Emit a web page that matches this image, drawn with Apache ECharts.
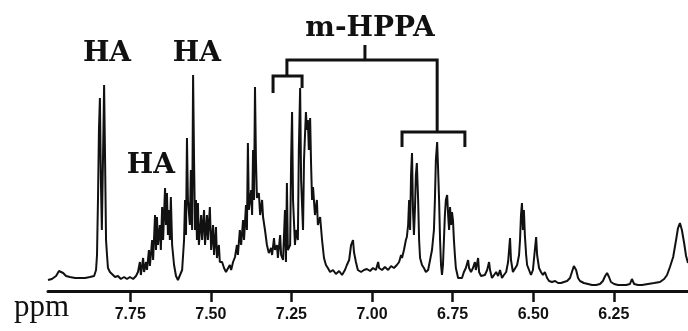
<!DOCTYPE html>
<html>
<head>
<meta charset="utf-8">
<script src="https://cdn.jsdelivr.net/npm/echarts@6/dist/echarts.min.js"></script>
<style>
  html, body { margin: 0; background: #fff; }
  #chart { width: 688px; height: 331px; }
</style>
</head>
<body>
<div id="chart"></div>
<script>
// chemical shift (ppm) left to right
const shift = [
  8.005, 7.993, 7.980, 7.971, 7.965, 7.958, 7.949, 7.937, 7.921, 7.906, 7.890, 7.875, 7.862,
  7.856, 7.853, 7.850, 7.847, 7.844, 7.841, 7.838, 7.834, 7.831, 7.828, 7.825, 7.822, 7.819,
  7.813, 7.807, 7.797, 7.788, 7.779, 7.769, 7.760, 7.751, 7.741, 7.732, 7.726, 7.720, 7.717,
  7.710, 7.707, 7.701, 7.698, 7.692, 7.689, 7.682, 7.679, 7.673, 7.670, 7.667, 7.664, 7.658,
  7.655, 7.651, 7.648, 7.642, 7.639, 7.636, 7.633, 7.630, 7.627, 7.624, 7.620, 7.614, 7.608,
  7.602, 7.596, 7.589, 7.583, 7.580, 7.577, 7.574, 7.571, 7.565, 7.562, 7.558, 7.555, 7.552,
  7.549, 7.546, 7.543, 7.540, 7.537, 7.530, 7.527, 7.521, 7.518, 7.512, 7.509, 7.503, 7.499,
  7.493, 7.490, 7.484, 7.481, 7.475, 7.472, 7.465, 7.459, 7.453, 7.447, 7.441, 7.437, 7.431,
  7.425, 7.419, 7.416, 7.410, 7.406, 7.400, 7.397, 7.391, 7.388, 7.385, 7.382, 7.375, 7.372,
  7.369, 7.366, 7.363, 7.360, 7.357, 7.351, 7.347, 7.341, 7.338, 7.332, 7.326, 7.320, 7.313,
  7.310, 7.304, 7.301, 7.295, 7.292, 7.285, 7.282, 7.276, 7.270, 7.267, 7.264, 7.261, 7.254,
  7.251, 7.248, 7.245, 7.239, 7.236, 7.230, 7.227, 7.223, 7.220, 7.214, 7.211, 7.205, 7.202,
  7.199, 7.196, 7.192, 7.189, 7.186, 7.183, 7.177, 7.171, 7.168, 7.161, 7.155, 7.149, 7.143,
  7.137, 7.130, 7.121, 7.112, 7.102, 7.093, 7.084, 7.078, 7.071, 7.065, 7.059, 7.056, 7.050,
  7.044, 7.034, 7.025, 7.016, 7.006, 6.997, 6.988, 6.981, 6.978, 6.969, 6.960, 6.950, 6.941,
  6.932, 6.923, 6.916, 6.910, 6.907, 6.901, 6.895, 6.892, 6.888, 6.885, 6.882, 6.879, 6.876,
  6.873, 6.870, 6.867, 6.864, 6.861, 6.857, 6.854, 6.851, 6.845, 6.839, 6.833, 6.826, 6.820,
  6.814, 6.808, 6.805, 6.802, 6.798, 6.795, 6.792, 6.789, 6.786, 6.783, 6.780, 6.777, 6.774,
  6.771, 6.767, 6.764, 6.761, 6.758, 6.755, 6.752, 6.749, 6.746, 6.743, 6.740, 6.733, 6.727,
  6.721, 6.715, 6.709, 6.702, 6.699, 6.693, 6.687, 6.681, 6.678, 6.671, 6.668, 6.662, 6.656,
  6.650, 6.643, 6.637, 6.634, 6.628, 6.622, 6.615, 6.609, 6.603, 6.597, 6.591, 6.584, 6.578,
  6.575, 6.572, 6.569, 6.563, 6.557, 6.550, 6.544, 6.541, 6.538, 6.535, 6.532, 6.529, 6.526,
  6.522, 6.519, 6.513, 6.507, 6.501, 6.495, 6.491, 6.488, 6.482, 6.476, 6.470, 6.464, 6.457,
  6.451, 6.442, 6.432, 6.423, 6.414, 6.405, 6.395, 6.386, 6.380, 6.374, 6.370, 6.367, 6.361,
  6.355, 6.343, 6.330, 6.318, 6.305, 6.293, 6.284, 6.277, 6.271, 6.265, 6.259, 6.249, 6.237,
  6.225, 6.212, 6.200, 6.194, 6.187, 6.175, 6.163, 6.144, 6.125, 6.107, 6.094, 6.085, 6.076,
  6.066, 6.057, 6.051, 6.045, 6.039, 6.032, 6.026, 6.020
];
// signal height (arbitrary units), same order as shift
const intensity = [
  11, 12, 15, 20, 21, 18, 15, 14, 13, 13, 13, 14, 15,
  21, 36, 91, 161, 193, 111, 61, 141, 206, 131, 51, 36, 23,
  19, 17, 14, 15, 12, 14, 12, 14, 12, 15, 19, 29, 16,
  33, 19, 29, 21, 41, 25, 51, 31, 76, 41, 74, 46, 66,
  41, 84, 51, 103, 66, 98, 56, 81, 51, 94, 46, 26, 15,
  11, 13, 21, 51, 91, 56, 153, 91, 66, 121, 61, 216, 131,
  61, 91, 51, 88, 46, 76, 51, 81, 46, 76, 51, 84, 41,
  66, 36, 64, 33, 46, 29, 29, 23, 19, 21, 26, 21, 29,
  34, 46, 36, 61, 46, 71, 51, 86, 61, 148, 81, 101, 76,
  141, 91, 204, 131, 93, 98, 76, 91, 74, 61, 46, 38, 43,
  36, 53, 41, 46, 33, 56, 36, 31, 81, 29, 108, 41, 46,
  131, 179, 91, 46, 61, 51, 141, 203, 111, 61, 131, 179, 161,
  171, 141, 173, 126, 91, 104, 76, 91, 66, 74, 51, 33, 26,
  23, 19, 21, 17, 20, 16, 21, 26, 31, 46, 51, 39, 29,
  21, 19, 21, 22, 20, 23, 21, 29, 23, 21, 24, 21, 25,
  23, 26, 29, 36, 33, 41, 51, 54, 66, 91, 61, 116, 138,
  81, 56, 81, 116, 128, 91, 51, 33, 26, 23, 19, 21, 31,
  41, 61, 91, 131, 149, 121, 91, 51, 26, 16, 26, 51, 76,
  91, 96, 76, 61, 84, 66, 79, 71, 51, 36, 23, 13, 11,
  13, 19, 23, 31, 23, 19, 23, 29, 21, 33, 19, 15, 13,
  16, 21, 29, 21, 13, 15, 19, 15, 21, 13, 16, 19, 29,
  41, 53, 31, 19, 21, 26, 36, 51, 76, 88, 61, 81, 56,
  36, 26, 21, 16, 21, 41, 54, 36, 23, 19, 16, 19, 13,
  10, 9, 10, 8, 8, 9, 10, 13, 19, 25, 26, 21, 13,
  10, 8, 7, 6, 6, 7, 10, 15, 18, 14, 9, 7, 6,
  6, 6, 7, 12, 7, 6, 6, 7, 8, 9, 12, 16, 24,
  34, 51, 63, 68, 61, 48, 35, 28
];
const tickValues = [7.75, 7.5, 7.25, 7.0, 6.75, 6.5, 6.25];

// peak assignments: text anchored at [ppm, height]
const labels = [
  { text: 'HA', at: [7.822, 237] },
  { text: 'HA', at: [7.543, 237] },
  { text: 'HA', at: [7.686, 125] },
  { text: 'm-HPPA', at: [7.006, 262] }
];
const brackets = [
  [[7.022, 246], [7.022, 231]],
  [[7.264, 215], [7.264, 231], [6.798, 231], [6.798, 159]],
  [[7.307, 198], [7.307, 215], [7.217, 215], [7.217, 203]],
  [[6.907, 144], [6.907, 159], [6.712, 159], [6.712, 144]]
];

const chart = echarts.init(document.getElementById('chart'));
chart.setOption({
  backgroundColor: '#fff',
  animation: false,
  grid: { left: 48, right: 0, top: 0, bottom: 40 },
  xAxis: {
    type: 'value',
    min: 6.02,
    max: 8.005,
    inverse: true,
    splitLine: { show: false },
    axisLine: { lineStyle: { color: '#111', width: 3 } },
    axisTick: { customValues: tickValues, length: 11, lineStyle: { color: '#111', width: 2.5 } },
    axisLabel: {
      customValues: tickValues,
      margin: 16,
      color: '#111',
      fontFamily: 'Liberation Sans',
      fontWeight: 'bold',
      fontSize: 16,
      formatter: v => v.toFixed(2)
    }
  },
  yAxis: { type: 'value', min: 0, max: 291, show: false },
  series: [{
    type: 'line',
    data: shift.map((s, i) => [s, intensity[i]]),
    showSymbol: false,
    lineStyle: { color: '#111', width: 2 }
  }]
});

const px = p => chart.convertToPixel({ gridIndex: 0 }, p);
const graphic = [];
labels.forEach(l => {
  const [x, y] = px(l.at);
  graphic.push({
    type: 'text', x: x, y: y,
    style: {
      text: l.text, fill: '#111', align: 'center', verticalAlign: 'middle',
      font: 'bold 28px "DejaVu Serif"'
    }
  });
});
brackets.forEach(b => {
  graphic.push({
    type: 'polyline',
    shape: { points: b.map(px) },
    style: { stroke: '#111', lineWidth: 3, fill: null }
  });
});
graphic.push({
  type: 'text', x: 14, y: 308,
  style: { text: 'ppm', fill: '#111', verticalAlign: 'middle', font: '31px "Liberation Serif"' }
});
chart.setOption({ graphic: graphic });
</script>
</body>
</html>
